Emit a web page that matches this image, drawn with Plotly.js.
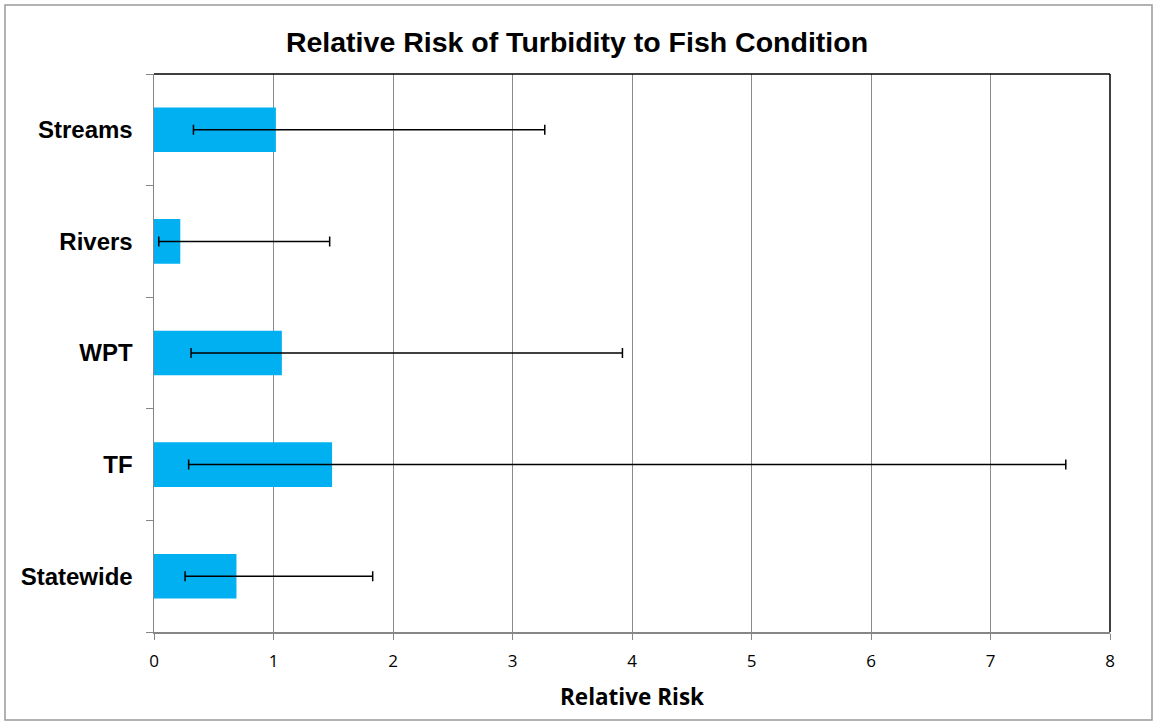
<!DOCTYPE html>
<html>
<head>
<meta charset="utf-8">
<script src="https://cdn.plot.ly/plotly-3.0.1.min.js"></script>
<style>body{margin:0;padding:0;background:#fff}#chart{width:1156px;height:723px}</style>
</head>
<body>
<div id="chart"></div>
<script>
var categories = ['Statewide', 'TF', 'WPT', 'Rivers', 'Streams'];
var relativeRisk = [0.69, 1.49, 1.07, 0.22, 1.02];
var lowerCI = [0.26, 0.29, 0.31, 0.04, 0.33];
var upperCI = [1.83, 7.63, 3.92, 1.47, 3.27];
var xTicks = [0, 1, 2, 3, 4, 5, 6, 7, 8];

var plus = relativeRisk.map(function (v, i) { return upperCI[i] - v; });
var minus = relativeRisk.map(function (v, i) { return v - lowerCI[i]; });

var trace = {
  type: 'bar',
  orientation: 'h',
  x: relativeRisk,
  y: categories,
  width: 0.4,
  marker: { color: '#00b0f0' },
  error_x: {
    type: 'data',
    symmetric: false,
    array: plus,
    arrayminus: minus,
    color: '#000000',
    thickness: 1.5,
    width: 5
  },
  hoverinfo: 'x+y'
};

var L = 154, R = 1110, T = 74, B = 632, W = 1156, H = 723;
function px(x) { return (x - L) / (R - L); }
function py(y) { return (B - y) / (B - T); }

var layout = {
  width: W,
  height: H,
  margin: { l: L, r: W - R, t: T, b: H - B },
  paper_bgcolor: '#ffffff',
  plot_bgcolor: '#ffffff',
  showlegend: false,
  title: {
    text: '<b>Relative Risk of Turbidity to Fish Condition</b>',
    font: { family: 'Liberation Sans, Arial, sans-serif', size: 28.5, color: '#000000' },
    x: 577 / W, xref: 'container', xanchor: 'center',
    y: 1 - 42 / H, yref: 'container', yanchor: 'middle'
  },
  xaxis: {
    range: [0, 8],
    tickvals: xTicks,
    ticktext: xTicks.map(String),
    showgrid: true,
    gridcolor: '#8c8c8c',
    gridwidth: 1,
    zeroline: false,
    showline: true,
    linecolor: '#868686',
    linewidth: 1.5,
    ticks: 'outside',
    ticklen: 6,
    tickcolor: '#868686',
    ticklabelstandoff: 7,
    tickfont: { family: 'Open Sans, Liberation Sans, sans-serif', size: 17, color: '#000000' },
    title: {
      text: '<b>Relative Risk</b>',
      font: { family: 'Open Sans, Liberation Sans, sans-serif', size: 22.5, color: '#000000' },
      standoff: 18
    },
    fixedrange: true
  },
  yaxis: {
    type: 'category',
    categoryorder: 'array',
    categoryarray: categories,
    showgrid: false,
    zeroline: false,
    showline: true,
    linecolor: '#868686',
    linewidth: 1.5,
    ticks: 'outside',
    tickson: 'boundaries',
    ticklen: 7,
    tickcolor: '#868686',
    ticklabelstandoff: 15,
    tickfont: { family: 'Liberation Sans, Arial, sans-serif', size: 24, color: '#000000', weight: 'bold' },
    fixedrange: true
  },
  shapes: [
    { type: 'line', xref: 'paper', yref: 'paper', x0: 0, x1: 1, y0: 1, y1: 1, line: { color: '#000000', width: 1.5 } },
    { type: 'line', xref: 'paper', yref: 'paper', x0: 1, x1: 1, y0: 0, y1: 1, line: { color: '#000000', width: 1.5 } },
    { type: 'rect', xref: 'paper', yref: 'paper', x0: px(5), x1: px(1152), y0: py(720), y1: py(5), line: { color: '#9a9a9a', width: 1.5 }, fillcolor: 'rgba(0,0,0,0)', layer: 'below' }
  ]
};

Plotly.newPlot('chart', [trace], layout, { displayModeBar: false, staticPlot: true });
</script>
</body>
</html>
